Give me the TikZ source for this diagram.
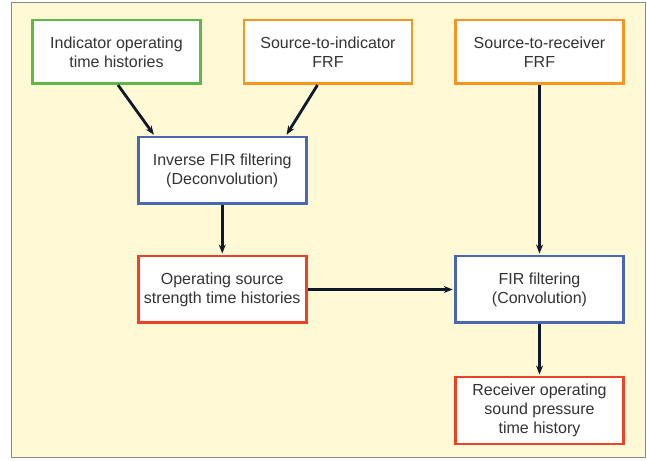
\documentclass[tikz,border=0pt]{standalone}
\usepackage{fontspec}
\setmainfont{Liberation Sans}
\usepackage{tikz}
\usetikzlibrary{calc, positioning, arrows.meta}
\definecolor{paleYellow}{HTML}{FFF9D6}
\definecolor{frameGrey}{HTML}{8A8A8A}
\definecolor{textGrey}{HTML}{333333}
\definecolor{inGreen}{HTML}{5DB846}
\definecolor{frfOrange}{HTML}{F7941E}
\definecolor{procBlue}{HTML}{4A67B1}
\definecolor{outRed}{HTML}{EE4126}
\definecolor{arrowInk}{HTML}{0E1A2B}
\tikzset{
  box/.style    = {draw, fill=white, line width=2.5pt, align=center, text=textGrey,
                   font=\fontsize{16}{19}\selectfont, minimum width=168pt,
                   minimum height=66.5pt, inner sep=2pt},
  inbox/.style  = {draw=inGreen, minimum height=63.5pt},
  frf/.style    = {draw=frfOrange, minimum height=63.5pt},
  proc/.style   = {draw=procBlue},
  outbox/.style = {draw=outRed},
  fl/.style     = {-{Stealth[length=9pt, width=7pt]}, draw=arrowInk, line width=2.8pt,
                   shorten >=1.5pt}
}
\begin{document}
\begin{tikzpicture}[x=1pt, y=1pt]
  \useasboundingbox (0,0) rectangle (647,460);
  \draw[frameGrey, fill=paleYellow, line width=1pt] (11,3) rectangle (645,457);

  % inputs
  \node[box, inbox] (ind) at (116.5,408)
    {Indicator operating\\ time histories};
  \node[box, frf, right=41pt of ind] (sti)
    {Source-to-indicator\\ FRF};
  \node[box, frf, right=41pt of sti] (str)
    {Source-to-receiver\\ FRF};

  % processing chain
  \node[box, proc, below=51pt of {$(ind.south)!0.5!(sti.south)$}] (inv)
    {Inverse FIR filtering\\ (Deconvolution)};
  \node[box, outbox, below=50pt of inv] (ops)
    {Operating source\\ strength time histories};
  \node[box, proc] (fir) at (str |- ops)
    {FIR filtering\\ (Convolution)};
  \node[box, outbox, below=52pt of fir] (rcv)
    {Receiver operating\\ sound pressure\\ time history};

  \draw[fl] ([xshift=1.5pt]ind.south) -- ([xshift=-67.5pt]inv.north);
  \draw[fl] ([xshift=-10.5pt]sti.south) -- ([xshift=63.5pt]inv.north);
  \foreach \a/\b in {inv/ops, str/fir, fir/rcv} \draw[fl] (\a) -- (\b);
  \draw[fl] (ops) -- (fir);
\end{tikzpicture}
\end{document}
